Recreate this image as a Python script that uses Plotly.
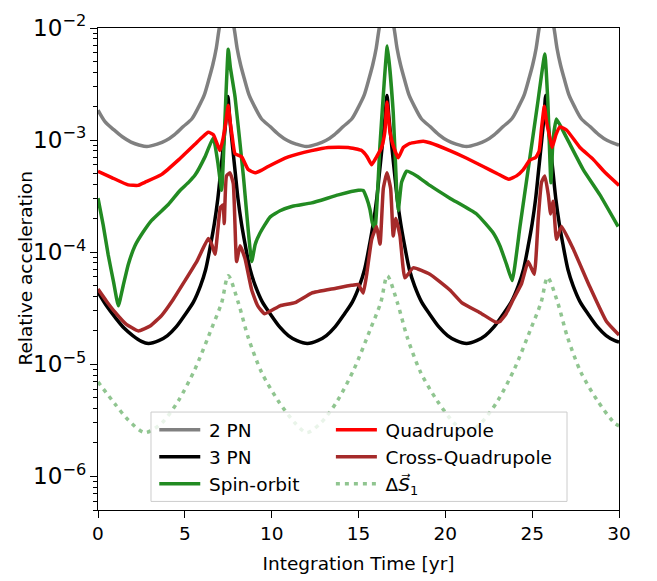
import math
import plotly.graph_objects as go

# ---------------- data ----------------
pn2_x = [0.0, 0.4, 0.9, 1.4, 1.9, 2.4, 2.81, 3.41, 3.91, 4.41, 4.91, 5.41, 5.81, 6.11, 6.41, 6.61, 6.81, 6.96,
         7.21, 7.41, 7.61, 7.86, 8.01, 8.21, 8.41, 8.71, 9.01, 9.41, 9.91, 10.41, 10.91, 11.41, 12.0, 12.62,
         13.12, 13.62, 14.12, 14.62, 15.02, 15.32, 15.62, 15.82, 16.02, 16.17, 16.42, 16.62, 16.82, 17.07,
         17.22, 17.42, 17.62, 17.92, 18.22, 18.62, 19.12, 19.62, 20.12, 20.62, 21.22, 21.83, 22.33, 22.83,
         23.33, 23.83, 24.23, 24.53, 24.83, 25.03, 25.23, 25.38, 25.63, 25.83, 26.03, 26.28, 26.43, 26.63,
         26.83, 27.13, 27.43, 27.83, 28.33, 28.83, 29.33, 29.83, 30.0]
pn2_y = [1.85e-3, 1.46e-3, 1.24e-3, 1.07e-3, 9.6e-4, 9.0e-4, 8.75e-4, 9.2e-4, 9.9e-4, 1.12e-3, 1.32e-3, 1.55e-3,
         2.0e-3, 2.5e-3, 3.6e-3, 4.7e-3, 6.6e-3, 9.5e-3, 1.55e-2, 2.6e-2, 1.55e-2, 9.5e-3, 6.6e-3, 4.7e-3,
         3.6e-3, 2.5e-3, 2.0e-3, 1.55e-3, 1.32e-3, 1.12e-3, 9.9e-4, 9.2e-4, 8.75e-4, 9.2e-4, 9.9e-4, 1.12e-3,
         1.32e-3, 1.55e-3, 2.0e-3, 2.5e-3, 3.6e-3, 4.7e-3, 6.6e-3, 9.5e-3, 1.55e-2, 2.6e-2, 1.55e-2, 9.5e-3,
         6.6e-3, 4.7e-3, 3.6e-3, 2.5e-3, 2.0e-3, 1.55e-3, 1.32e-3, 1.12e-3, 9.9e-4, 9.2e-4, 8.75e-4, 9.2e-4,
         9.9e-4, 1.12e-3, 1.32e-3, 1.55e-3, 2.0e-3, 2.5e-3, 3.6e-3, 4.7e-3, 6.6e-3, 9.5e-3, 1.55e-2, 2.6e-2,
         1.55e-2, 9.5e-3, 6.6e-3, 4.7e-3, 3.6e-3, 2.5e-3, 2.0e-3, 1.55e-3, 1.32e-3, 1.12e-3, 9.9e-4, 9.2e-4,
         9.0e-4]

pn3_x = [0.0, 0.5, 1.0, 1.5, 2.0, 2.5, 2.9, 3.5, 4.0, 4.5, 5.0, 5.5, 5.9, 6.2, 6.5, 6.7, 6.9, 7.05, 7.25, 7.38,
         7.48, 7.58, 7.71, 7.91, 8.06, 8.26, 8.46, 8.76, 9.06, 9.46, 9.96, 10.46, 10.96, 11.46, 12.06, 12.65,
         13.15, 13.65, 14.15, 14.65, 15.05, 15.35, 15.65, 15.85, 16.05, 16.2, 16.4, 16.53, 16.64, 16.75,
         16.88, 17.08, 17.23, 17.43, 17.63, 17.93, 18.23, 18.63, 19.13, 19.63, 20.13, 20.63, 21.22, 21.8,
         22.3, 22.8, 23.3, 23.8, 24.2, 24.5, 24.8, 25.0, 25.2, 25.35, 25.55, 25.68, 25.78, 25.88, 26.01,
         26.21, 26.36, 26.56, 26.76, 27.06, 27.36, 27.76, 28.26, 28.76, 29.26, 29.76, 30.0]
pn3_y = [4.4e-5, 3.3e-5, 2.6e-5, 2.1e-5, 1.8e-5, 1.6e-5, 1.53e-5, 1.62e-5, 1.8e-5, 2.15e-5, 2.75e-5, 3.6e-5,
         5.0e-5, 7.0e-5, 1.2e-4, 1.8e-4, 3.0e-4, 5.0e-4, 1.0e-3, 1.6e-3, 2.45e-3, 1.6e-3, 1.0e-3, 5.0e-4,
         3.0e-4, 1.8e-4, 1.2e-4, 7.0e-5, 5.0e-5, 3.6e-5, 2.75e-5, 2.15e-5, 1.8e-5, 1.62e-5, 1.53e-5, 1.62e-5,
         1.8e-5, 2.15e-5, 2.75e-5, 3.6e-5, 5.0e-5, 7.0e-5, 1.2e-4, 1.8e-4, 3.0e-4, 5.0e-4, 1.0e-3, 1.6e-3,
         2.5e-3, 1.6e-3, 1.0e-3, 5.0e-4, 3.0e-4, 1.8e-4, 1.2e-4, 7.0e-5, 5.0e-5, 3.6e-5, 2.75e-5, 2.15e-5,
         1.8e-5, 1.62e-5, 1.53e-5, 1.62e-5, 1.8e-5, 2.15e-5, 2.75e-5, 3.6e-5, 5.0e-5, 7.0e-5, 1.2e-4, 1.8e-4,
         3.0e-4, 5.0e-4, 1.0e-3, 1.6e-3, 2.5e-3, 1.6e-3, 1.0e-3, 5.0e-4, 3.0e-4, 1.8e-4, 1.2e-4, 7.0e-5,
         5.0e-5, 3.6e-5, 2.75e-5, 2.15e-5, 1.8e-5, 1.62e-5, 1.58e-5]

so_x = [0.0, 0.3, 0.59, 0.9, 1.17, 1.45, 1.74, 2.13, 2.6, 3.09, 4.05, 4.72, 5.2, 5.6, 6.16, 6.64, 6.9, 7.12,
        7.3, 7.5, 7.62, 7.89, 8.37, 8.85, 9.05, 9.33, 9.9, 10.48, 11.2, 12.3, 13.84, 14.99, 15.27, 15.47,
        15.66, 15.8, 15.95, 16.24, 16.66, 17.0, 17.2, 17.29, 17.48, 17.77, 18.35, 19.11, 20.26, 21.8, 22.76,
        23.14, 23.53, 23.85, 24.3, 24.8, 25.3, 25.73, 25.9, 26.08, 26.2, 26.4, 26.98, 27.94, 28.9, 29.95]
so_y = [3.03e-4, 1.74e-4, 9.4e-5, 5.37e-5, 3.32e-5, 5.01e-5, 7.73e-5, 1.14e-4, 1.51e-4, 1.92e-4, 2.66e-4,
        3.55e-4, 4.17e-4, 4.9e-4, 7.08e-4, 1.05e-3, 6.31e-4, 3.56e-4, 1.41e-3, 6.46e-3, 4.47e-3, 2.44e-3,
        4.79e-4, 8.24e-5, 1.17e-4, 1.48e-4, 2.05e-4, 2.34e-4, 2.57e-4, 2.75e-4, 3.24e-4, 3.56e-4, 3.55e-4,
        3.03e-4, 2.4e-4, 1.82e-4, 1.63e-4, 9.18e-4, 6.9e-3, 1.76e-3, 3.45e-4, 2.34e-4, 4.2e-4, 5.27e-4,
        4.79e-4, 3.94e-4, 3.03e-4, 2.19e-4, 1.48e-4, 1.14e-4, 7.73e-5, 5.57e-5, 1.7e-4, 5.89e-4, 2.04e-3,
        5.86e-3, 2.24e-3, 4.17e-4, 1.0e-3, 1.54e-3, 1.05e-3, 5.45e-4, 3.24e-4, 1.69e-4]

quad_x = [0.0, 0.79, 1.74, 2.3, 2.7, 3.67, 4.62, 5.58, 6.0, 6.35, 6.64, 6.85, 7.02, 7.21, 7.35, 7.5, 7.62,
          7.72, 7.89, 8.27, 8.65, 9.04, 9.4, 9.8, 10.96, 12.3, 13.26, 14.41, 15.18, 15.5, 15.76, 16.04, 16.33,
          16.52, 16.64, 16.81, 17.0, 17.29, 17.58, 17.96, 18.73, 19.11, 20.26, 21.2, 22.18, 23.0, 23.63, 24.1,
          24.49, 24.87, 25.2, 25.4, 25.54, 25.7, 25.83, 26.02, 26.15, 26.37, 26.6, 26.98, 27.75, 28.5, 29.2,
          30.0]
quad_y = [5.27e-4, 4.63e-4, 3.98e-4, 3.94e-4, 4.2e-4, 4.94e-4, 6.62e-4, 9.18e-4, 1.06e-3, 1.175e-3, 1.117e-3,
          9.33e-4, 8.05e-4, 1.047e-3, 1.41e-3, 2.04e-3, 1.41e-3, 1.1e-3, 7.55e-4, 7.08e-4, 5.45e-4, 5.1e-4,
          5.37e-4, 5.81e-4, 7.08e-4, 8.05e-4, 8.59e-4, 8.59e-4, 8.05e-4, 7.08e-4, 6.03e-4, 7.08e-4, 8.59e-4,
          1.19e-3, 2.19e-3, 1.19e-3, 8.87e-4, 6.95e-4, 8.59e-4, 9.33e-4, 9.77e-4, 9.46e-4, 8.05e-4, 6.92e-4,
          5.81e-4, 5.01e-4, 4.48e-4, 4.79e-4, 5.45e-4, 6.62e-4, 7.0e-4, 7.94e-4, 1.27e-3, 2.0e-3, 1.45e-3,
          1.047e-3, 8.59e-4, 1.117e-3, 1.31e-3, 1.23e-3, 8.59e-4, 6.76e-4, 5.13e-4, 3.94e-4]

cross_x = [0.0, 0.5, 0.98, 1.6, 2.32, 3.0, 3.67, 4.3, 5.01, 5.7, 6.35, 6.55, 6.74, 6.9, 7.05, 7.2, 7.27, 7.4,
           7.6, 7.79, 7.98, 8.18, 8.46, 8.85, 9.2, 9.6, 10.48, 11.34, 12.3, 13.64, 14.6, 14.99, 15.27, 15.47,
           15.76, 16.04, 16.24, 16.43, 16.64, 16.85, 17.0, 17.15, 17.39, 17.67, 18.15, 19.11, 20.26, 20.94,
           22.0, 22.9, 23.14, 23.5, 23.91, 24.39, 24.77, 25.12, 25.35, 25.54, 25.73, 25.93, 26.06, 26.21, 26.4,
           26.69, 27.36, 28.32, 29.28, 30.0]
cross_y = [4.68e-5, 3.63e-5, 2.91e-5, 2.29e-5, 1.98e-5, 2.19e-5, 2.73e-5, 3.72e-5, 5.57e-5, 8.32e-5, 1.32e-4,
           1.17e-4, 9.55e-5, 1.58e-4, 2.51e-4, 2.63e-4, 1.8e-4, 4.79e-4, 5.1e-4, 4.07e-4, 8.24e-5, 1.14e-4,
           8.81e-5, 4.59e-5, 3.31e-5, 2.82e-5, 3.32e-5, 3.54e-5, 4.31e-5, 4.74e-5, 5.06e-5, 5.13e-5, 4.31e-5,
           6.31e-5, 1.3e-4, 1.69e-4, 1.18e-4, 3.69e-4, 5.1e-4, 3.69e-4, 1.39e-4, 2.0e-4, 1.39e-4, 5.89e-5,
           7.24e-5, 6.35e-5, 4.59e-5, 3.55e-5, 2.88e-5, 2.37e-5, 2.4e-5, 2.82e-5, 3.78e-5, 5.25e-5, 8.24e-5,
           6.35e-5, 2.0e-4, 4.2e-4, 4.79e-4, 3.24e-4, 2.19e-4, 2.84e-4, 1.3e-4, 1.69e-4, 1.07e-4, 4.9e-5,
           2.4e-5, 1.82e-5]

ds1_x = [0.0, 0.98, 1.74, 2.7, 3.67, 4.62, 5.58, 6.55, 7.12, 7.5, 8.08, 8.65, 9.42, 10.38, 11.34, 12.02,
         12.83, 13.78, 14.74, 15.71, 16.28, 16.66, 17.24, 17.81, 18.58, 19.54, 20.5, 21.25, 22.06, 23.01,
         23.97, 24.94, 25.51, 25.89, 26.47, 27.04, 27.81, 28.77, 29.73, 30.0]
ds1_y = [6.95e-6, 4.41e-6, 3.18e-6, 2.45e-6, 2.99e-6, 4.7e-6, 9.02e-6, 2.1e-5, 3.54e-5, 6.15e-5, 3.54e-5,
         1.73e-5, 8.45e-6, 4.7e-6, 2.99e-6, 2.45e-6, 2.99e-6, 4.7e-6, 9.02e-6, 2.1e-5, 3.54e-5, 6.15e-5,
         3.54e-5, 1.73e-5, 8.45e-6, 4.7e-6, 2.99e-6, 2.45e-6, 2.99e-6, 4.7e-6, 9.02e-6, 2.1e-5, 3.54e-5,
         5.96e-5, 3.54e-5, 1.73e-5, 8.45e-6, 4.7e-6, 2.99e-6, 2.82e-6]

y_min, y_max = 5e-7, 1e-2
x_min, x_max = 0, 30

# ---------------- figure ----------------
fig = go.Figure()

def add(x, y, name, color, legend, dash=None, smoothing=0.5):
    fig.add_trace(go.Scatter(
        x=x, y=y, mode="lines", name=name, legend=legend,
        line=dict(color=color, width=3.5, dash=dash, shape="spline", smoothing=smoothing),
    ))

add(pn2_x, pn2_y, "\u20092 PN", "#808080", "legend", smoothing=0.8)
add(pn3_x, pn3_y, "\u20093 PN", "#000000", "legend", smoothing=0.8)
add(so_x, so_y, "\u2009Spin-orbit", "#228B22", "legend", smoothing=0.4)
add(quad_x, quad_y, "\u2009Quadrupole", "#FF0000", "legend2", smoothing=0.4)
add(cross_x, cross_y, "\u2009Cross-Quadrupole", "#A52A2A", "legend2", smoothing=0.4)
add(ds1_x, ds1_y, "\u2009Δ<i>S⃗</i><sub>1</sub>", "rgba(34,139,34,0.5)", "legend2", dash="4px,5px", smoothing=0.8)

font = dict(family="DejaVu Sans", size=18.5, color="black")

leg_common = dict(
    bgcolor="rgba(0,0,0,0)", borderwidth=0, font=font, orientation="v",
    xanchor="left", yanchor="top", itemwidth=41, tracegroupgap=0,
)

fig.update_layout(
    width=657, height=581,
    margin=dict(l=98, r=38, t=11, b=63),
    plot_bgcolor="white", paper_bgcolor="white",
    font=font,
    showlegend=True,
    legend=dict(x=0.108, y=0.205, **leg_common),
    legend2=dict(x=0.447, y=0.205, **leg_common),
    shapes=[dict(type="rect", xref="paper", yref="paper", x0=0.1017, x1=0.9002, y0=0.0178, y1=0.2032,
                 line=dict(color="#cccccc", width=1), fillcolor="rgba(255,255,255,0.8)", layer="above")],
    annotations=[dict(text="Relative acceleration", xref="paper", yref="paper", x=-0.141, y=0.5,
                      xanchor="center", yanchor="middle", textangle=-90, showarrow=False, font=font)],
)

fig.update_xaxes(
    range=[x_min, x_max], dtick=5, tick0=0,
    ticks="outside", ticklen=7, tickwidth=1, tickcolor="black",
    showline=True, linecolor="black", linewidth=1, mirror=True,
    showgrid=False, zeroline=False, tickfont=font,
    title=dict(text="Integration Time [yr]", font=font, standoff=13),
)
fig.update_yaxes(
    type="log", range=[math.log10(y_min), math.log10(y_max)], dtick=1,
    exponentformat="power", showexponent="all", ticklabeloverflow="allow",
    ticks="outside", ticklen=7, tickwidth=1, tickcolor="black",
    minor=dict(ticks="outside", ticklen=4, tickwidth=0.8, tickcolor="black", dtick="D1", showgrid=False),
    showline=True, linecolor="black", linewidth=1, mirror=True,
    showgrid=False, zeroline=False, tickfont=font,
)

fig.write_html("out.html", config={"displayModeBar": False},
               post_script="document.body.style.margin='0';")
